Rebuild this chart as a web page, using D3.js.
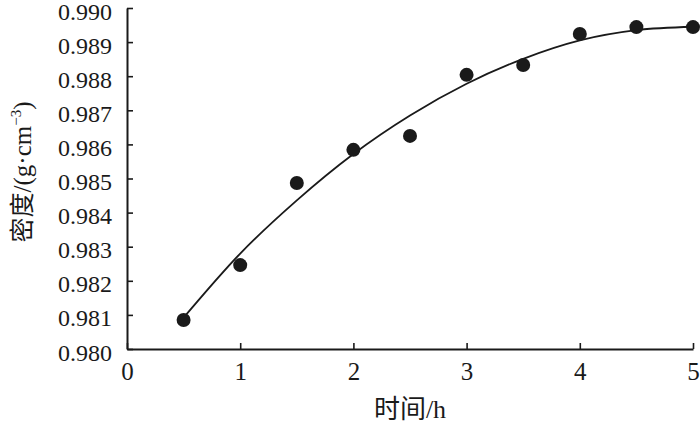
<!DOCTYPE html>
<html>
<head>
<meta charset="utf-8">
<script src="https://cdn.jsdelivr.net/npm/d3@7"></script>
<style>
  html, body { margin: 0; padding: 0; background: #fff; }
  svg text { font-family: "Liberation Serif", "Noto Sans CJK SC", serif; fill: #1a1a1a; }
</style>
</head>
<body>
<svg id="chart" width="700" height="423"></svg>
<script>
// Measured data (time in h, density in g/cm^3)
const timeH = [0.5, 1.0, 1.5, 2.0, 2.5, 3.0, 3.5, 4.0, 4.5, 5.0];
const density = [0.98085, 0.98246, 0.98487, 0.98584, 0.98625, 0.98804, 0.98833, 0.98924, 0.98944, 0.98944];
// Fitted curve
const fitX = [0.5, 1.0, 1.5, 2.0, 2.5, 3.0, 3.5, 4.0, 4.5, 5.0];
const fitY = [0.98092, 0.98280, 0.98436, 0.98572, 0.98685, 0.98778, 0.98851, 0.98905, 0.98935, 0.98945];
// Ticks
const xTicks = [0, 1, 2, 3, 4, 5];
const yTicks = [0.980, 0.981, 0.982, 0.983, 0.984, 0.985, 0.986, 0.987, 0.988, 0.989, 0.990];

const svg = d3.select("#chart");
const x = d3.scaleLinear().domain([0, 5]).range([127, 693]);
const y = d3.scaleLinear().domain([0.980, 0.990]).range([349, 8]);
const ink = "#1a1a1a";

// X axis
const xAxis = svg.append("g").attr("transform", "translate(0,349)")
  .call(d3.axisBottom(x).tickValues(xTicks).tickFormat(d3.format("d")).tickSize(-6).tickSizeOuter(0).tickPadding(13));
xAxis.select(".domain").attr("stroke", ink).attr("stroke-width", 2);
xAxis.selectAll(".tick line").attr("stroke", ink).attr("stroke-width", 1.6);
xAxis.selectAll(".tick text").attr("font-size", 25).attr("font-family", "Liberation Serif").attr("fill", ink);

// Y axis
const yAxis = svg.append("g").attr("transform", "translate(127,0)")
  .call(d3.axisLeft(y).tickValues(yTicks).tickFormat(d3.format(".3f")).tickSize(-6).tickSizeOuter(0).tickPadding(15));
yAxis.select(".domain").attr("stroke", ink).attr("stroke-width", 2);
yAxis.selectAll(".tick line").attr("stroke", ink).attr("stroke-width", 1.6);
yAxis.selectAll(".tick text").attr("font-size", 24).attr("dy", "0.46em")
  .attr("font-family", "Liberation Serif").attr("fill", ink);

// Fitted curve
const line = d3.line().x(d => x(d[0])).y(d => y(d[1])).curve(d3.curveMonotoneX);
svg.append("path")
  .datum(fitX.map((v, i) => [v, fitY[i]]))
  .attr("d", line)
  .attr("fill", "none")
  .attr("stroke", ink)
  .attr("stroke-width", 1.8);

// Points
svg.append("g").selectAll("circle")
  .data(timeH.map((v, i) => [v, density[i]]))
  .join("circle")
  .attr("cx", d => x(d[0]))
  .attr("cy", d => y(d[1]))
  .attr("r", 7)
  .attr("fill", ink);

// X title
svg.append("text")
  .attr("x", 410).attr("y", 418)
  .attr("text-anchor", "middle")
  .attr("font-size", 26)
  .text("时间/h");

// Y title
const yt = svg.append("text")
  .attr("transform", "translate(31,172) rotate(-90)")
  .attr("text-anchor", "middle")
  .attr("font-size", 25);
yt.append("tspan").text("密度/(g·cm");
yt.append("tspan").attr("font-size", 15).attr("dy", -10).text("−3");
yt.append("tspan").attr("dy", 10).text(")");
</script>
</body>
</html>
